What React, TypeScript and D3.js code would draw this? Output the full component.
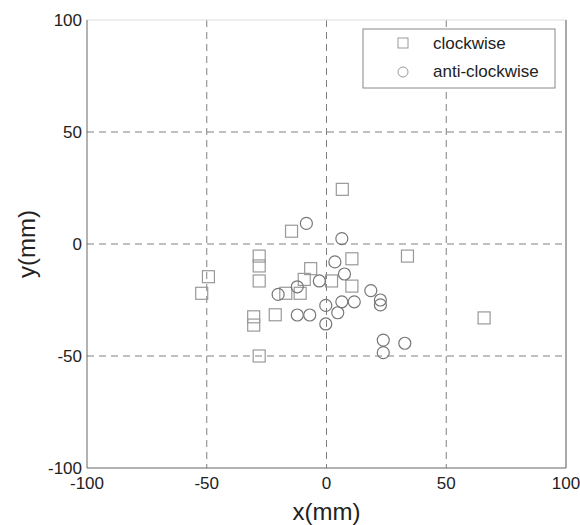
import React from "react";
import * as d3 from "d3";

// clockwise marker positions (mm)
const cwX = [6.6, -14.6, 10.6, 65.8, 33.8, -28.1, -28.1, -28.1, -6.6, -49.3, -52.1, -9.3, 2.1, 10.6, -17.0, -11.0, -21.4, -30.4, -30.4, -28.1];
const cwY = [24.4, 5.7, -6.6, -33.0, -5.4, -5.4, -9.8, -16.5, -11.0, -14.6, -22.0, -15.8, -16.5, -18.8, -22.0, -22.0, -31.6, -32.5, -36.2, -50.0];

// anti-clockwise marker positions (mm)
const acwX = [-8.4, 6.4, 3.5, 7.5, -3.0, -12.2, -20.2, 18.5, 22.5, 22.5, 6.4, 11.6, -0.3, 4.7, -12.2, -7.0, -0.3, 23.7, 32.7, 23.7];
const acwY = [9.2, 2.4, -8.0, -13.4, -16.5, -19.1, -22.5, -20.8, -25.0, -27.2, -25.8, -25.8, -27.4, -30.7, -31.7, -31.7, -35.7, -42.9, -44.3, -48.5];

const ticks = [-100, -50, 0, 50, 100];
const legendLabels = ["clockwise", "anti-clockwise"];

const W = 580;
const H = 525;
const margin = { left: 87, right: 14, top: 20, bottom: 57 };
const font = "'Liberation Sans', Arial, sans-serif";

const App = () => {
    const x = d3.scaleLinear().domain([-100, 100]).range([margin.left, W - margin.right]);
    const y = d3.scaleLinear().domain([-100, 100]).range([H - margin.bottom, margin.top]);
    const sq = 12;
    const r = 6;

    return (
        <div style={{ position: "absolute", left: 0, top: 0 }}>
            <svg width={W} height={H} style={{ display: "block", background: "#fff" }}>
                {/* grid */}
                {ticks.slice(1, -1).map((t) => (
                    <g key={"g" + t}>
                        <line x1={x(t)} x2={x(t)} y1={y(100)} y2={y(-100)} stroke="#808080" strokeDasharray="7,5" />
                        <line x1={x(-100)} x2={x(100)} y1={y(t)} y2={y(t)} stroke="#808080" strokeDasharray="7,5" />
                    </g>
                ))}
                {/* axes box */}
                <line x1={x(-100)} x2={x(100)} y1={y(100)} y2={y(100)} stroke="#ddd" />
                <line x1={x(-100)} x2={x(-100)} y1={y(100)} y2={y(-100)} stroke="#666" />
                <line x1={x(100)} x2={x(100)} y1={y(100)} y2={y(-100)} stroke="#555" />
                <line x1={x(-100)} x2={x(100)} y1={y(-100)} y2={y(-100)} stroke="#666" />
                {/* tick labels */}
                {ticks.map((t) => (
                    <text key={"xt" + t} x={x(t)} y={y(-100) + 21} textAnchor="middle" fontFamily={font} fontSize={17} fill="#222">
                        {t}
                    </text>
                ))}
                {ticks.map((t) => (
                    <text key={"yt" + t} x={x(-100) - 5} y={y(t) + 6} textAnchor="end" fontFamily={font} fontSize={17} fill="#222">
                        {t}
                    </text>
                ))}
                <text x={x(0)} y={H - 5} textAnchor="middle" fontFamily={font} fontSize={24} fill="#222">
                    x(mm)
                </text>
                <text transform={`translate(35, ${y(0)}) rotate(-90)`} textAnchor="middle" fontFamily={font} fontSize={24} fill="#222">
                    y(mm)
                </text>
                {/* clockwise squares */}
                {cwX.map((v, i) => (
                    <rect key={"s" + i} x={x(v) - sq / 2} y={y(cwY[i]) - sq / 2} width={sq} height={sq} fill="none" stroke="#999" strokeWidth={1.2} />
                ))}
                {/* anti-clockwise circles */}
                {acwX.map((v, i) => (
                    <circle key={"c" + i} cx={x(v)} cy={y(acwY[i])} r={r} fill="none" stroke="#777" strokeWidth={1.2} />
                ))}
                {/* legend */}
                <rect x={363} y={29} width={192} height={59} fill="#fff" stroke="#888" />
                <rect x={403 - 5} y={43 - 5} width={10} height={10} fill="none" stroke="#999" />
                <circle cx={403} cy={72} r={5} fill="none" stroke="#999" />
                {legendLabels.map((l, i) => (
                    <text key={l} x={433} y={49 + i * 28} fontFamily={font} fontSize={17} fill="#222">
                        {l}
                    </text>
                ))}
            </svg>
        </div>
    );
};

export default App;
